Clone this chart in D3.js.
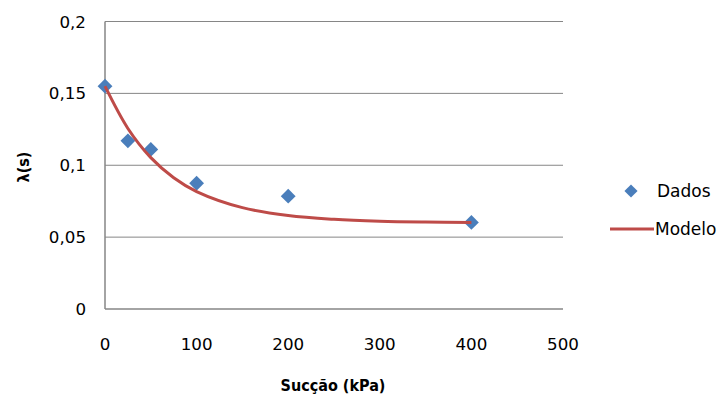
<!DOCTYPE html>
<html><head><meta charset="utf-8">
<script src="https://cdn.jsdelivr.net/npm/d3@7"></script>
<style>body{margin:0;background:#fff}svg{display:block}</style>
</head><body>
<script>
const dadosS = [0, 25, 50, 100, 200, 400];
const dadosL = [0.155, 0.117, 0.111, 0.0875, 0.0785, 0.0602];
const modeloS = [0, 25, 50, 75, 100, 150, 200, 250, 300, 350, 400];
const modeloL = [0.155, 0.1256, 0.1053, 0.0913, 0.0817, 0.0705, 0.0650, 0.0624, 0.0611, 0.0605, 0.0602];
const xTicks = [0, 100, 200, 300, 400, 500];
const yTicks = [0, 0.05, 0.1, 0.15, 0.2];
const seriesNames = ["Dados", "Modelo"];

const W = 725, H = 399;
const svg = d3.select("body").append("svg").attr("width", W).attr("height", H);
const x = d3.scaleLinear().domain([0, 500]).range([105, 563]);
const y = d3.scaleLinear().domain([0, 0.2]).range([309, 21.5]);
const font = "DejaVu Sans";
const fmt = d => String(d).replace(".", ",");

// gridlines
svg.append("g").selectAll("line").data(yTicks.filter(d => d > 0)).join("line")
  .attr("x1", x(0)).attr("x2", x(500)).attr("y1", d => y(d)).attr("y2", d => y(d))
  .attr("stroke", "#868686").attr("stroke-width", 1);
// axes lines
svg.append("line").attr("x1", x(0)).attr("x2", x(500)).attr("y1", y(0)).attr("y2", y(0))
  .attr("stroke", "#868686").attr("stroke-width", 1.5);
svg.append("line").attr("x1", x(0)).attr("x2", x(0)).attr("y1", y(0.2)).attr("y2", y(0))
  .attr("stroke", "#868686").attr("stroke-width", 1.5);

// tick labels
svg.append("g").selectAll("text").data(yTicks).join("text")
  .attr("x", 86).attr("y", d => y(d)).attr("dy", "0.36em").attr("text-anchor", "end")
  .attr("font-family", font).attr("font-size", 16.7).attr("fill", "#000").text(fmt);
svg.append("g").selectAll("text").data(xTicks).join("text")
  .attr("x", d => x(d)).attr("y", 344).attr("dy", "0.36em").attr("text-anchor", "middle")
  .attr("font-family", font).attr("font-size", 16.7).attr("fill", "#000").text(fmt);

// axis titles
svg.append("text").attr("x", 333).attr("y", 385).attr("dy", "0.35em").attr("text-anchor", "middle")
  .attr("font-family", "DejaVu Sans Condensed, DejaVu Sans").attr("font-weight", "bold").attr("font-size", 16)
  .attr("font-stretch", "condensed").text("Sucção (kPa)");
svg.append("text").attr("transform", "translate(23,167) rotate(-90)").attr("dy", "0.35em")
  .attr("text-anchor", "middle").attr("font-family", "DejaVu Sans Condensed, DejaVu Sans")
  .attr("font-weight", "bold").attr("font-size", 16).text("λ(s)");

// markers
const diamond = d3.symbol().type(d3.symbolDiamond2).size(140);
const blue = "#4A7EBB", red = "#BE4B48";
svg.append("g").selectAll("path").data(dadosS.map((s, i) => [s, dadosL[i]])).join("path")
  .attr("d", diamond).attr("transform", d => `translate(${x(d[0])},${y(d[1])})`)
  .attr("fill", blue);

// model line
const line = d3.line().x(d => x(d[0])).y(d => y(d[1])).curve(d3.curveCatmullRom);
svg.append("path").datum(modeloS.map((s, i) => [s, modeloL[i]]))
  .attr("d", line).attr("fill", "none").attr("stroke", red).attr("stroke-width", 3);

// legend
svg.append("path").attr("d", d3.symbol().type(d3.symbolDiamond2).size(110)).attr("transform", "translate(631,191)").attr("fill", blue);
svg.append("text").attr("x", 657).attr("y", 191).attr("dy", "0.36em")
  .attr("font-family", font).attr("font-size", 17).text(seriesNames[0]);
svg.append("line").attr("x1", 610).attr("x2", 654).attr("y1", 229).attr("y2", 229)
  .attr("stroke", red).attr("stroke-width", 3);
svg.append("text").attr("x", 655).attr("y", 229).attr("dy", "0.36em")
  .attr("font-family", font).attr("font-size", 17).text(seriesNames[1]);
</script>
</body></html>
